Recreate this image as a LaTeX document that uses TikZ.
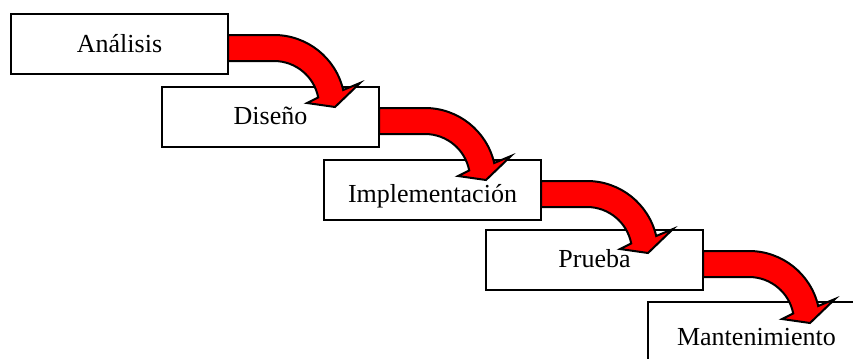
\documentclass[tikz,border=0pt]{standalone}
\usepackage{fontspec}
\setmainfont{Liberation Serif}
\definecolor{flowred}{RGB}{255,0,0}
\tikzset{
  stage/.style={draw=black, line width=1.5pt, fill=white, rectangle,
    minimum width=162.75pt, minimum height=45pt, inner sep=0pt, outer sep=0pt,
    text height=19.5pt, font=\fontsize{19.5}{22}\selectfont, anchor=north west},
  % thick bent arrow: straight shaft, quarter-circle bend, short wide head
  pics/bendarrow/.style={code={
    \draw[fill=flowred, line width=1.5pt, line join=miter, miter limit=10]
      (0,21) -- (46,21) .. controls (79.1,21) and (107.7,43.8) .. (115.2,76)
      -- (132,69) -- (107,93) -- (79,89) -- (90.2,83.4)
      .. controls (86.1,62.3) and (67.5,47) .. (46,47) -- (0,47) -- cycle;
  }}
}
\begin{document}
\begin{tikzpicture}[x=0.75pt, y=-0.75pt]
  \useasboundingbox (0,0) rectangle (853,358);
  \clip (0,0) rectangle (853,358);
  % the five stages, stepping down to the right
  \node[stage, text depth=7.5pt] (s1) at (11,14)  {Análisis};
  \node[stage, text depth=9pt]   (s2) at (162,87) {Diseño};
  \node[stage, text depth=1.5pt] (s3) at (324,160) {Implementación};
  \node[stage, text depth=9pt]   (s4) at (486,230) {Prueba};
  \node[stage, text depth=0pt]   (s5) at (648,302) {Mantenimiento};
  % curved arrows from each stage into the next
  \pic at (s1.north east) {bendarrow};
  \pic at (s2.north east) {bendarrow};
  \pic at (s3.north east) {bendarrow};
  \pic at (s4.north east) {bendarrow};
\end{tikzpicture}
\end{document}
